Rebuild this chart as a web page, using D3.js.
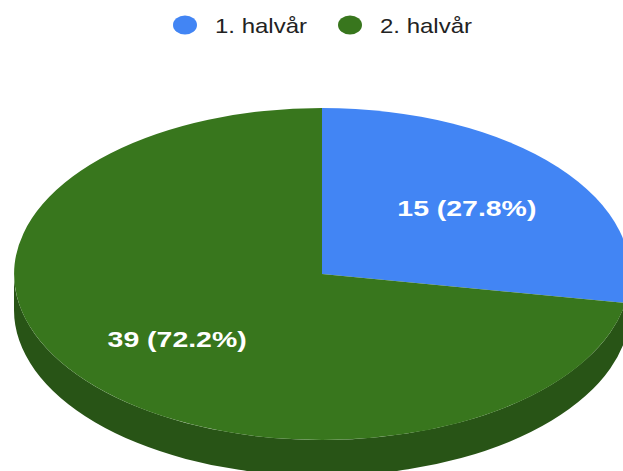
<!DOCTYPE html>
<html><head><meta charset="utf-8">
<script src="https://cdn.jsdelivr.net/npm/d3@7"></script>
<style>body{margin:0;background:#fff}svg{display:block}</style>
</head><body>
<svg id="c" width="623" height="471"></svg>
<script>
const categories = ["1. halvår", "2. halvår"];
const values = [15, 39];
const colors = ["#4285f4", "#38761d"];
const sideColors = ["#2e5daa", "#285416"];

const W = 623, H = 471;
const cx = 322, cy = 274, rx = 308, ry = 166, depth = 36;
const svg = d3.select("#c");

const total = d3.sum(values);
const pie = d3.pie().sort(null).value(d => d)(values);

// sides (front half only)
const sideG = svg.append("g").attr("transform", `translate(${cx},${cy}) scale(${rx},${ry})`);
const dz = depth / ry;
pie.forEach((s, i) => {
  const a0 = Math.max(s.startAngle, Math.PI / 2);
  const a1 = Math.min(s.endAngle, 3 * Math.PI / 2);
  if (a1 <= a0) return;
  const p = d3.path();
  p.moveTo(Math.sin(a0), -Math.cos(a0));
  p.arc(0, 0, 1, a0 - Math.PI / 2, a1 - Math.PI / 2);
  p.lineTo(Math.sin(a1), -Math.cos(a1) + dz);
  p.arc(0, dz, 1, a1 - Math.PI / 2, a0 - Math.PI / 2, true);
  p.closePath();
  sideG.append("path").attr("d", p.toString()).attr("fill", sideColors[i]);
});

// top faces
const topG = svg.append("g").attr("transform", `translate(${cx},${cy}) scale(${rx},${ry})`);
const arc = d3.arc().innerRadius(0).outerRadius(1);
topG.selectAll("path").data(pie).join("path")
  .attr("d", arc)
  .attr("fill", (d, i) => colors[i]);

// labels
const lr = 0.614;
const labelW = 139;
svg.append("g").selectAll("text").data(pie).join("text")
  .attr("x", d => cx + lr * rx * Math.sin((d.startAngle + d.endAngle) / 2))
  .attr("y", d => cy - lr * ry * Math.cos((d.startAngle + d.endAngle) / 2))
  .attr("dy", "0.36em")
  .attr("text-anchor", "middle")
  .attr("font-family", "Arial, 'Liberation Sans', sans-serif")
  .attr("font-weight", "bold")
  .attr("font-size", 22)
  .attr("fill", "#fff")
  .attr("textLength", labelW)
  .attr("lengthAdjust", "spacingAndGlyphs")
  .text(d => `${d.value} (${(d.value / total * 100).toFixed(1)}%)`);

// legend
const legendX = [185, 350];
const lg = svg.append("g");
categories.forEach((c, i) => {
  lg.append("ellipse").attr("cx", legendX[i]).attr("cy", 25).attr("rx", 12).attr("ry", 9.5).attr("fill", colors[i]);
  lg.append("text").attr("x", legendX[i] + 30).attr("y", 33)
    .attr("font-family", "Arial, 'Liberation Sans', sans-serif")
    .attr("font-size", 21).attr("fill", "#222")
    .attr("textLength", 92).attr("lengthAdjust", "spacingAndGlyphs")
    .text(c);
});
</script>
</body></html>
